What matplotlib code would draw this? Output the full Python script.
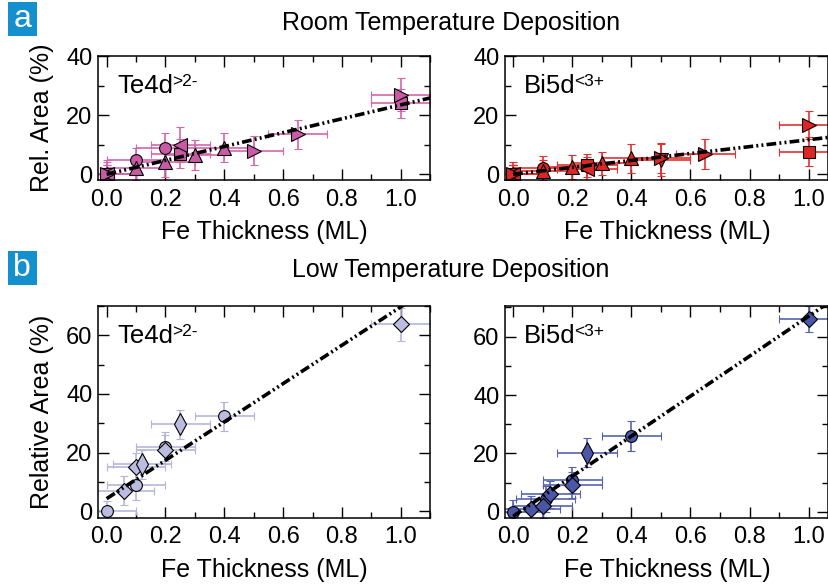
import numpy as np
import matplotlib
matplotlib.use("Agg")
import matplotlib.pyplot as plt
from matplotlib.patches import Rectangle
from matplotlib.ticker import MultipleLocator

plt.rcParams['font.family'] = ['Liberation Sans', 'DejaVu Sans']
plt.rcParams['lines.scale_dashes'] = False

# ---- data ----
# a) room temperature, Te4d
te_rt_x = [0.0, 0.1, 0.2, 0.0, 0.1, 0.2, 0.3, 0.4, 0.0, 0.25, 1.0, 0.0, 0.25, 0.0, 0.5, 0.65, 1.0]
te_rt_y = [0.0, 5.0, 9.0, 0.0, 2.0, 4.0, 6.5, 9.0, 0.0, 7.0, 24.0, 0.0, 10.0, 0.0, 8.0, 13.5, 27.0]
te_rt_yerr = [3, 4, 5, 2, 4, 5, 5, 5, 3, 5, 5, 4, 6, 5, 5, 5, 5.5]
te_rt_mk = ['o', 'o', 'o', '^', '^', '^', '^', '^', 's', 's', 's', '<', '<', '>', '>', '>', '>']
te_rt_fit = (23.5, 0.0)   # slope, intercept

# a) room temperature, Bi5d
bi_rt_x = [0.0, 0.1, 0.0, 0.1, 0.2, 0.3, 0.4, 0.0, 0.25, 1.0, 0.0, 0.25, 0.5, 0.0, 0.5, 0.65, 1.0]
bi_rt_y = [0.0, 2.2, 0.0, 1.0, 2.5, 3.7, 5.4, 0.0, 3.0, 7.7, 0.0, 1.7, 4.8, 0.0, 5.5, 6.8, 16.7]
bi_rt_yerr = [4, 4, 3, 4, 4, 4, 5, 3, 4, 4.8, 3, 4, 5.5, 3, 5, 5, 4.8]
bi_rt_mk = ['o', 'o', '^', '^', '^', '^', '^', 's', 's', 's', '<', '<', 'v', '>', '>', '>', '>']
bi_rt_fit = (11.7, 0.0)

# b) low temperature, Te4d
te_lt_x = [0.0, 0.1, 0.2, 0.4, 0.06, 0.1, 0.2, 1.0, 0.12, 0.25]
te_lt_y = [0.0, 9.0, 22.0, 32.4, 7.0, 15.0, 21.0, 63.7, 16.0, 29.6]
te_lt_yerr = [3.5, 5, 5, 5, 5, 5, 5, 5.5, 5, 5]
te_lt_mk = ['o', 'o', 'o', 'o', 'D', 'D', 'D', 'D', 'd', 'd']
te_lt_fit = (65.4, 4.3)

# b) low temperature, Bi5d
bi_lt_x = [0.0, 0.11, 0.2, 0.4, 0.06, 0.1, 0.125, 0.2, 1.0, 0.25]
bi_lt_y = [0.0, 4.3, 11.0, 26.0, 1.0, 2.0, 6.0, 9.3, 66.0, 20.3]
bi_lt_yerr = [4, 4.5, 4.5, 5, 4.5, 4, 4.5, 4.5, 4.5, 5]
bi_lt_mk = ['o', 'o', 'o', 'o', 'D', 'D', 'D', 'D', 'D', 'd']
bi_lt_fit = (68.5, -1.5)

x_err = 0.1
fit_start = 0.0

# marker sizes per symbol
msize = {'o': 8.5, 's': 8, '^': 9.5, 'v': 9.5, '<': 9.5, '>': 9.5, 'D': 8, 'd': 11}


def panel(ax, x, y, yerr, mk, fit, fill, ecol, label, sup, xlim, ylim, label_y):
    x = np.array(x); y = np.array(y); yerr = np.array(yerr); mk = np.array(mk)
    for m in dict.fromkeys(mk):
        sel = mk == m
        ax.errorbar(x[sel], y[sel], xerr=x_err, yerr=yerr[sel], fmt=m, ms=msize[m],
                    mfc=fill, mec='black', mew=0.8, ecolor=ecol, elinewidth=1.2,
                    capsize=3, capthick=1.2, zorder=2)
    xf = np.linspace(fit_start, xlim[1], 2)
    ax.plot(xf, fit[0] * xf + fit[1], color='black', lw=2.6,
            ls=(0, (7, 2.3, 1.4, 2.3, 1.4, 2.3)), zorder=4)
    ax.set_xlim(xlim)
    ax.set_ylim(ylim)
    ax.xaxis.set_major_locator(MultipleLocator(0.2))
    ax.xaxis.set_minor_locator(MultipleLocator(0.1))
    ax.yaxis.set_major_locator(MultipleLocator(20))
    ax.yaxis.set_minor_locator(MultipleLocator(10))
    ax.xaxis.set_major_formatter(matplotlib.ticker.FormatStrFormatter('%.1f'))
    ax.tick_params(which='both', direction='in', top=True, right=True, width=1)
    ax.tick_params(which='major', length=8, labelsize=17)
    ax.tick_params(which='minor', length=4)
    ax.tick_params(axis='x', pad=6)
    ax.tick_params(axis='y', pad=4)
    for s in ax.spines.values():
        s.set_linewidth(1.1)
    t = ax.text(0.06, label_y, label, transform=ax.transAxes, fontsize=18.5, va='baseline')
    ax.annotate(sup, xy=(1, 1), xycoords=t, xytext=(-1.0, 0.5), textcoords='offset points',
                fontsize=12.5, ha='left', va='top')


fig = plt.figure(figsize=(8.29, 5.85), dpi=100)

ax1 = fig.add_axes([0.118, 0.692, 0.401, 0.212])
ax2 = fig.add_axes([0.609, 0.692, 0.390, 0.212])
ax3 = fig.add_axes([0.118, 0.115, 0.401, 0.362])
ax4 = fig.add_axes([0.609, 0.115, 0.390, 0.362])

panel(ax1, te_rt_x, te_rt_y, te_rt_yerr, te_rt_mk, te_rt_fit, '#c95aa5', '#d566ab',
      'Te4d', '>2-', (-0.03, 1.1), (-2, 40), 0.70)
panel(ax2, bi_rt_x, bi_rt_y, bi_rt_yerr, bi_rt_mk, bi_rt_fit, '#e02525', '#e33030',
      'Bi5d', '<3+', (-0.028, 1.066), (-2, 40), 0.70)
panel(ax3, te_lt_x, te_lt_y, te_lt_yerr, te_lt_mk, te_lt_fit, '#bcbce0', '#b5b5dc',
      'Te4d', '>2-', (-0.03, 1.1), (-2.2, 70), 0.824)
panel(ax4, bi_lt_x, bi_lt_y, bi_lt_yerr, bi_lt_mk, bi_lt_fit, '#4a56a6', '#5664b0',
      'Bi5d', '<3+', (-0.028, 1.066), (-2, 70.5), 0.824)

# axis labels
fig.text(42.5 / 829, 1 - 118 / 585, 'Rel. Area (%)', rotation=90, ha='center', va='center', fontsize=18)
fig.text(42.5 / 829, 1 - 412 / 585, 'Relative Area (%)', rotation=90, ha='center', va='center', fontsize=18)
for xc in (264, 667):
    fig.text(xc / 829, 1 - 239 / 585, 'Fe Thickness (ML)', ha='center', va='baseline', fontsize=18)
    fig.text(xc / 829, 1 - 577 / 585, 'Fe Thickness (ML)', ha='center', va='baseline', fontsize=18)

# section titles
fig.text(451 / 829, 1 - 23 / 585, 'Room Temperature Deposition', ha='center', va='center', fontsize=18)
fig.text(451 / 829, 1 - 270 / 585, 'Low Temperature Deposition', ha='center', va='center', fontsize=18)

# panel letters
for lab, ytop in (('a', 2), ('b', 251)):
    fig.patches.append(Rectangle((8 / 829, 1 - (ytop + 34) / 585), 28.7 / 829, 34 / 585,
                                 transform=fig.transFigure, facecolor='#1590cf',
                                 edgecolor='none'))
    fig.text(22.3 / 829, 1 - (ytop + 17) / 585, lab, color='white', fontsize=23,
             ha='center', va='center')

fig.savefig('out.png', dpi=100)
